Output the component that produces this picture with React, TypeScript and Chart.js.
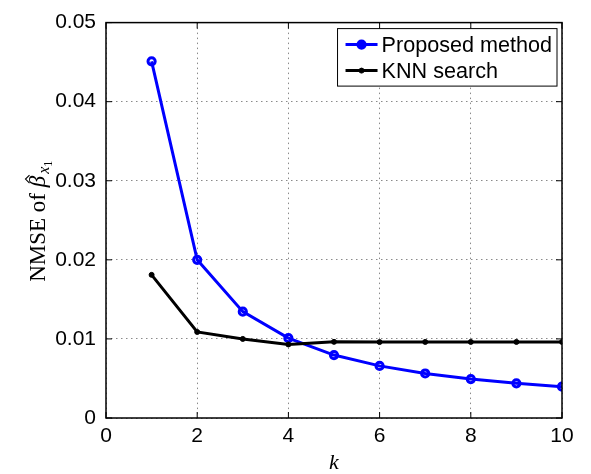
import React, { useEffect, useRef } from 'react';
import { Chart, registerables } from 'chart.js';

Chart.register(...registerables);

const kValues = [1, 2, 3, 4, 5, 6, 7, 8, 9, 10];
const proposedValues = [0.0451, 0.0200, 0.01345, 0.0101, 0.00796, 0.00659, 0.00563, 0.00492, 0.00438, 0.00396];
const knnValues = [0.0181, 0.01088, 0.0100, 0.0093, 0.00963, 0.0096, 0.00962, 0.00962, 0.00962, 0.00962];
const seriesNames = ['Proposed method', 'KNN search'];
const xTicks = [0, 2, 4, 6, 8, 10];
const xTickLabels = ['0', '2', '4', '6', '8', '10'];
const yTicks = [0, 0.01, 0.02, 0.03, 0.04, 0.05];
const yTickLabels = ['0', '0.01', '0.02', '0.03', '0.04', '0.05'];
const xTitle = 'k';
const yTitleMain = 'NMSE of ';
const yTitleSymbol = 'β';
const yTitleSub = 'x';
const yTitleSubSub = '1';

const SANS = '"Liberation Sans", Arial, sans-serif';
const SERIF = '"Liberation Serif", "Times New Roman", serif';

const decorPlugin = {
  id: 'decor',
  afterDraw(chart: any) {
    const { ctx, chartArea: a, scales } = chart;
    const xs = scales.x;
    const ys = scales.y;
    ctx.save();
    // frame
    ctx.strokeStyle = '#000';
    ctx.lineWidth = 1.5;
    ctx.strokeRect(a.left, a.top, a.right - a.left, a.bottom - a.top);
    // inward ticks
    const L = 6;
    ctx.lineWidth = 1;
    ctx.beginPath();
    xTicks.forEach((v) => {
      const p = xs.getPixelForValue(v);
      ctx.moveTo(p, a.bottom);
      ctx.lineTo(p, a.bottom - L);
      ctx.moveTo(p, a.top);
      ctx.lineTo(p, a.top + L);
    });
    yTicks.forEach((v) => {
      const p = ys.getPixelForValue(v);
      ctx.moveTo(a.left, p);
      ctx.lineTo(a.left + L, p);
      ctx.moveTo(a.right, p);
      ctx.lineTo(a.right - L, p);
    });
    ctx.stroke();

    // y title with subscripts
    const cy = (a.top + a.bottom) / 2 + 1;
    ctx.save();
    ctx.translate(45, cy);
    ctx.rotate(-Math.PI / 2);
    ctx.fillStyle = '#000';
    ctx.textBaseline = 'alphabetic';
    ctx.textAlign = 'left';
    const fMain = `23px ${SERIF}`;
    const fSym = `italic 23px ${SERIF}`;
    const fSub = `italic 16px ${SERIF}`;
    const fSub2 = `12px ${SERIF}`;
    ctx.font = fMain;
    const wMain = ctx.measureText(yTitleMain).width;
    ctx.font = fSym;
    const wSym = ctx.measureText(yTitleSymbol).width;
    ctx.font = fSub;
    const wSub = ctx.measureText(yTitleSub).width;
    ctx.font = fSub2;
    const wSub2 = ctx.measureText(yTitleSubSub).width;
    const total = wMain + wSym + 2 + wSub + wSub2;
    let x = -total / 2;
    ctx.font = fMain;
    ctx.fillText(yTitleMain, x, 0);
    x += wMain;
    ctx.font = fSym;
    ctx.fillText(yTitleSymbol, x, 0);
    // hat
    ctx.lineWidth = 1.1;
    ctx.strokeStyle = '#000';
    ctx.beginPath();
    const hx = x + wSym / 2 + 2.5;
    ctx.moveTo(hx - 4, -15.5);
    ctx.lineTo(hx, -19.5);
    ctx.lineTo(hx + 4, -15.5);
    ctx.stroke();
    x += wSym + 2;
    ctx.font = fSub;
    ctx.fillText(yTitleSub, x, 4);
    x += wSub;
    ctx.font = fSub2;
    ctx.fillText(yTitleSubSub, x, 7);
    ctx.restore();

    // legend
    const legendFont = `21.6px ${SANS}`;
    ctx.font = legendFont;
    const texts = seriesNames;
    const maxW = Math.max(...texts.map((t) => ctx.measureText(t).width));
    const boxW = 44 + maxW + 5;
    const boxH = 57.5;
    const bx = a.right - 5 - boxW;
    const by = a.top + 6;
    ctx.fillStyle = '#fff';
    ctx.fillRect(bx, by, boxW, boxH);
    ctx.strokeStyle = '#000';
    ctx.lineWidth = 1;
    ctx.strokeRect(bx, by, boxW, boxH);
    const rows = [by + 16, by + 42];
    chart.data.datasets.forEach((ds: any, i: number) => {
      const ry = rows[i];
      ctx.strokeStyle = ds.borderColor;
      ctx.lineWidth = ds.borderWidth;
      ctx.beginPath();
      ctx.moveTo(bx + 8, ry);
      ctx.lineTo(bx + 40, ry);
      ctx.stroke();
      ctx.beginPath();
      ctx.arc(bx + 24, ry, ds.pointRadius, 0, Math.PI * 2);
      ctx.fillStyle = ds.legendMarkerFill;
      ctx.fill();
      ctx.lineWidth = ds.pointBorderWidth;
      ctx.strokeStyle = ds.pointBorderColor;
      ctx.stroke();
      ctx.fillStyle = '#000';
      ctx.textAlign = 'left';
      ctx.textBaseline = 'middle';
      ctx.font = legendFont;
      ctx.fillText(texts[i], bx + 44, ry + 1);
    });
    ctx.restore();
  },
};

export default function App() {
  const ref = useRef<HTMLCanvasElement | null>(null);
  useEffect(() => {
    if (!ref.current) return;
    const chart = new Chart(ref.current, {
      type: 'line',
      data: {
        datasets: [
          {
            label: seriesNames[0],
            data: kValues.map((k, i) => ({ x: k, y: proposedValues[i] })),
            borderColor: '#0000ff',
            borderWidth: 3,
            pointRadius: 3.6,
            pointBorderWidth: 3,
            pointBorderColor: '#0000ff',
            pointBackgroundColor: 'rgba(255,255,255,0)',
            legendMarkerFill: '#0000ff',
            order: 1,
            tension: 0,
          } as any,
          {
            label: seriesNames[1],
            data: kValues.map((k, i) => ({ x: k, y: knnValues[i] })),
            borderColor: '#000000',
            borderWidth: 3,
            pointRadius: 2.5,
            pointBorderWidth: 1,
            pointBorderColor: '#000000',
            pointBackgroundColor: '#000000',
            legendMarkerFill: '#000000',
            order: 0,
            tension: 0,
          } as any,
        ],
      },
      options: {
        animation: false,
        responsive: false,
        devicePixelRatio: 1,
        layout: { padding: { top: 18, right: 29, left: 0, bottom: 0 } },
        plugins: { legend: { display: false }, tooltip: { enabled: false } },
        scales: {
          x: {
            type: 'linear',
            min: 0,
            max: 10,
            afterBuildTicks: (s: any) => {
              s.ticks = xTicks.map((v) => ({ value: v }));
            },
            afterFit: (s: any) => {
              s.height = 56;
            },
            grid: { color: '#8a8a8a', lineWidth: 1, drawTicks: false },
            border: { display: false, dash: [1.5, 3.5] },
            ticks: {
              padding: 6,
              color: '#000',
              maxRotation: 0,
              autoSkip: false,
              font: { family: SANS, size: 21 },
              callback: (_v: any, i: number) => xTickLabels[i],
            },
            title: {
              display: true,
              text: xTitle,
              color: '#000',
              font: { family: SERIF, size: 22, style: 'italic', lineHeight: 1 },
              padding: { top: 0, bottom: 0 },
            },
          },
          y: {
            type: 'linear',
            min: 0,
            max: 0.05,
            afterBuildTicks: (s: any) => {
              s.ticks = yTicks.map((v) => ({ value: v }));
            },
            afterFit: (s: any) => {
              s.width = 106;
            },
            grid: { color: '#8a8a8a', lineWidth: 1, drawTicks: false },
            border: { display: false, dash: [1.5, 3.5] },
            ticks: {
              padding: 10,
              color: '#000',
              autoSkip: false,
              font: { family: SANS, size: 21 },
              callback: (_v: any, i: number) => yTickLabels[i],
            },
          },
        },
      },
      plugins: [decorPlugin],
    });
    return () => chart.destroy();
  }, []);
  return (
    <div style={{ position: 'absolute', left: 0, top: 0, width: 591, height: 474, background: '#fff' }}>
      <canvas ref={ref} width={591} height={474} style={{ width: 591, height: 474, display: 'block' }} />
    </div>
  );
}
